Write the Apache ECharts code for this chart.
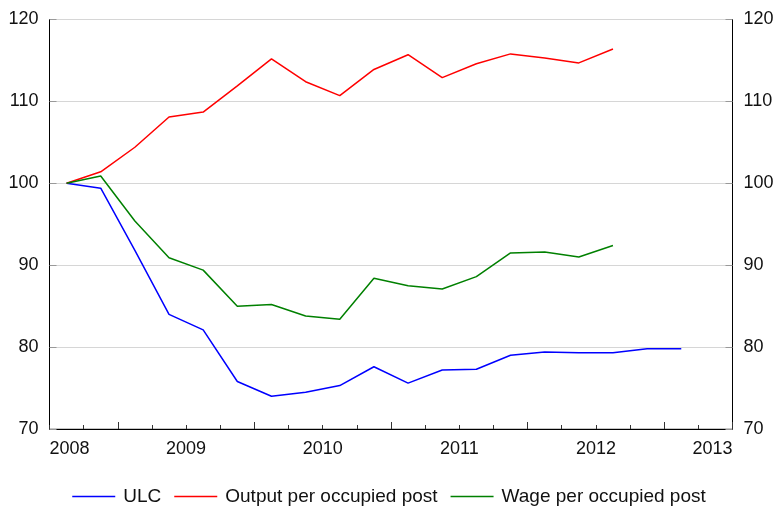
<!DOCTYPE html>
<html>
<head>
<meta charset="utf-8">
<script src="https://cdn.jsdelivr.net/npm/echarts@6/dist/echarts.min.js"></script>
<style>
html,body{margin:0;padding:0;background:#fff;}
#chart{width:778px;height:506px;}
</style>
</head>
<body>
<div id="chart"></div>
<script>
var quarters = ['2008Q1','2008Q2','2008Q3','2008Q4','2009Q1','2009Q2','2009Q3','2009Q4',
  '2010Q1','2010Q2','2010Q3','2010Q4','2011Q1','2011Q2','2011Q3','2011Q4',
  '2012Q1','2012Q2','2012Q3','2012Q4'];
var yearLabels = ['2008','2009','2010','2011','2012','2013'];
var ulc = [100, 99.4, 91.8, 84.0, 82.1, 75.8, 74.0, 74.5, 75.3, 77.6, 75.6, 77.2, 77.3, 79.0, 79.4, 79.3, 79.3, 79.8, 79.8];
var output = [100, 101.4, 104.4, 108.1, 108.7, 111.9, 115.2, 112.4, 110.7, 113.9, 115.7, 112.9, 114.6, 115.8, 115.3, 114.7, 116.4];
var wage = [100, 100.9, 95.4, 90.9, 89.4, 85.0, 85.2, 83.8, 83.4, 88.4, 87.5, 87.1, 88.6, 91.5, 91.6, 91.0, 92.4];
var yTicks = {min: 70, max: 120, interval: 10};

var chart = echarts.init(document.getElementById('chart'), null, {renderer: 'canvas'});
var font = 'Liberation Sans, Arial, sans-serif';
var yAxisCommon = function (pos) {
  return {
    type: 'value', position: pos, min: yTicks.min, max: yTicks.max, interval: yTicks.interval,
    axisLine: {show: true, lineStyle: {color: '#000', width: 1}},
    axisTick: {show: true, inside: true, length: 7, lineStyle: {color: '#999'}},
    axisLabel: {fontSize: 18, color: '#111', fontFamily: font, margin: 11},
    splitLine: {show: pos === 'left', lineStyle: {color: '#d6d6d6', width: 1}}
  };
};
chart.setOption({
  animation: false,
  backgroundColor: '#fff',
  grid: {left: 49.5, right: 45.5, top: 19.5, bottom: 77, show: true, borderColor: '#8c8c8c', borderWidth: 1, backgroundColor: 'transparent'},
  legend: {
    top: 482, left: 'center', icon: 'rect', itemWidth: 43, itemHeight: 1.5, itemGap: 13,
    textStyle: {fontSize: 19, color: '#111', fontFamily: font, padding: [0, 0, 0, 3]},
    data: ['ULC', 'Output per occupied post', 'Wage per occupied post']
  },
  xAxis: [
    {
      type: 'category', data: quarters, boundaryGap: true, position: 'bottom',
      axisLine: {show: true, lineStyle: {color: '#000', width: 1}},
      axisTick: {show: true, inside: true, length: 4, interval: 0, lineStyle: {color: '#333'}},
      axisLabel: {show: false}
    },
    {
      type: 'category', data: quarters, boundaryGap: true, position: 'bottom',
      axisLine: {show: false},
      axisTick: {show: true, inside: true, length: 7, lineStyle: {color: '#333'},
        interval: function (i) { return i % 4 === 2; }},
      axisLabel: {show: false}
    },
    {
      type: 'value', position: 'bottom', min: 0, max: quarters.length, interval: 4,
      axisLine: {show: false}, axisTick: {show: false}, splitLine: {show: false},
      axisLabel: {fontSize: 18, color: '#111', fontFamily: font, margin: 11,
        alignMinLabel: 'left', alignMaxLabel: 'right',
        formatter: function (v) { return yearLabels[Math.round(v / 4)]; }}
    }
  ],
  yAxis: [yAxisCommon('left'), yAxisCommon('right')],
  series: [
    {name: 'ULC', type: 'line', data: ulc, xAxisIndex: 0, yAxisIndex: 0, symbol: 'none',
      lineStyle: {color: '#0000ff', width: 1.5}, itemStyle: {color: '#0000ff'}},
    {name: 'Output per occupied post', type: 'line', data: output, xAxisIndex: 0, yAxisIndex: 0, symbol: 'none',
      lineStyle: {color: '#ff0000', width: 1.5}, itemStyle: {color: '#ff0000'}},
    {name: 'Wage per occupied post', type: 'line', data: wage, xAxisIndex: 0, yAxisIndex: 0, symbol: 'none',
      lineStyle: {color: '#008000', width: 1.5}, itemStyle: {color: '#008000'}}
  ]
});
</script>
</body>
</html>
